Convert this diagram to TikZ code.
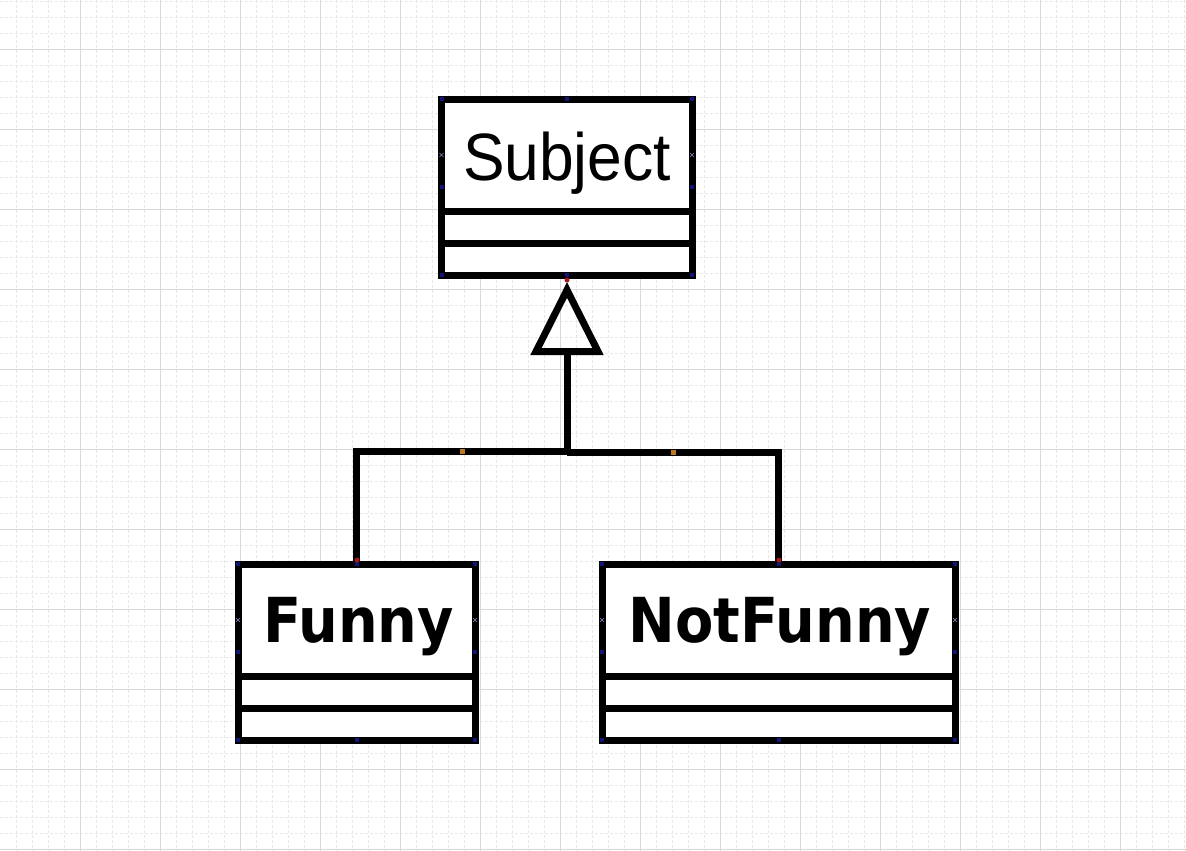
\documentclass[tikz,border=0pt]{standalone}
\usepackage{fontspec}
\setmainfont{Liberation Sans}
\newfontfamily\subjfont[FakeStretch=0.93]{Liberation Sans}
\newfontfamily\boldfont[FakeStretch=0.9]{DejaVu Sans Bold}
\definecolor{gridmajor}{RGB}{216,216,216}
\definecolor{gridminor}{RGB}{232,232,232}
\definecolor{handle}{RGB}{20,20,120}
\definecolor{conn}{RGB}{170,20,20}
\definecolor{midh}{RGB}{190,120,30}
\definecolor{crossc}{RGB}{140,140,200}
\begin{document}
\begin{tikzpicture}[x=1pt,y=-1pt,
  bord/.style={line width=7pt,black},
  umlbox/.style={draw,line width=7pt,fill=white,inner sep=0pt,outer sep=0pt},
  lbl/.style={anchor=base,inner sep=0pt},
  hnd/.style={fill=handle},
  cnd/.style={fill=conn},
  mnd/.style={fill=midh},
  crs/.style={draw=crossc,line width=0.6pt}]
\useasboundingbox (0,0) rectangle (1186,851);
\fill[white] (0,0) rectangle (1186,851);
% minor grid
\foreach \i in {1,...,74} {\draw[gridminor,line width=0.9pt,dash pattern=on 3pt off 2pt] (\i*16,0) -- (\i*16,851);}
\foreach \j in {0,...,53} {\draw[gridminor,line width=0.9pt,dash pattern=on 3pt off 2pt] (0,1+\j*16) -- (1186,1+\j*16);}
% major grid
\foreach \i in {1,...,14} {\draw[gridmajor,line width=0.9pt] (\i*80,0) -- (\i*80,851);}
\foreach \j in {0,...,10} {\draw[gridmajor,line width=0.9pt] (0,49+\j*80) -- (1186,49+\j*80);}

% boxes
\node[umlbox,minimum width=250.5pt,minimum height=176pt] (subject) at (566.75,187) {};
\node[umlbox,minimum width=237pt,minimum height=176pt] (funny) at (356.5,652) {};
\node[umlbox,minimum width=353pt,minimum height=176pt] (notfunny) at (778.5,652) {};
% compartments
\draw[bord] (subject.west |- 0,211) -- (subject.east |- 0,211);
\draw[bord] (subject.west |- 0,243) -- (subject.east |- 0,243);
\draw[bord] (funny.west |- 0,676) -- (funny.east |- 0,676);
\draw[bord] (funny.west |- 0,708) -- (funny.east |- 0,708);
\draw[bord] (notfunny.west |- 0,676) -- (notfunny.east |- 0,676);
\draw[bord] (notfunny.west |- 0,708) -- (notfunny.east |- 0,708);
% labels
\node[lbl] (subjtext) at (567,180) {\subjfont\fontsize{67}{80}\selectfont Subject};
\node[lbl] (funnytext) at (358.5,642) {\boldfont\fontsize{62}{75}\selectfont Funny};
\node[lbl] (notfunnytext) at (780,642) {\boldfont\fontsize{62}{75}\selectfont NotFunny};

% generalization connector
\coordinate (apex) at (567,290);
\coordinate (tribase) at (567,351.5);
\coordinate (junction) at (567,451);
\coordinate (junctionb) at (567,452.5);
\draw[bord,line join=miter] (apex) -- ++(-31,61.5) -- ++(62,0) -- cycle;
\draw[bord] (tribase) -- (junction);
\draw[bord,line join=miter] (funny.north) |- (junction);
\draw[bord,line join=miter] (notfunny.north) |- (junctionb);

% editor handles
\foreach \p in {(441.5,99),(567,99),(692,99),(441.5,187),(692,187),(441.5,275),(567,275),(692,275),
  (238,564),(356.5,564),(475,564),(238,652),(475,652),(238,740),(356.5,740),(475,740),
  (602,564),(778.5,564),(955,564),(602,652),(955,652),(602,740),(778.5,740),(955,740)}
  {\fill[hnd] \p ++(-2,-2) rectangle ++(4,4);}
\foreach \p in {(567,280),(357,560),(779,560)} {\fill[cnd] \p circle (2.5);}
\foreach \p in {(462,451),(673,452.5)} {\fill[mnd] \p ++(-2.5,-2.5) rectangle ++(5,5);}
\foreach \p in {(441.5,155),(692,155),(238,620),(475,620),(602,620),(955,620)}
  {\draw[crs] \p ++(-2,-2) -- ++(4,4); \draw[crs] \p ++(-2,2) -- ++(4,-4);}
\end{tikzpicture}
\end{document}
